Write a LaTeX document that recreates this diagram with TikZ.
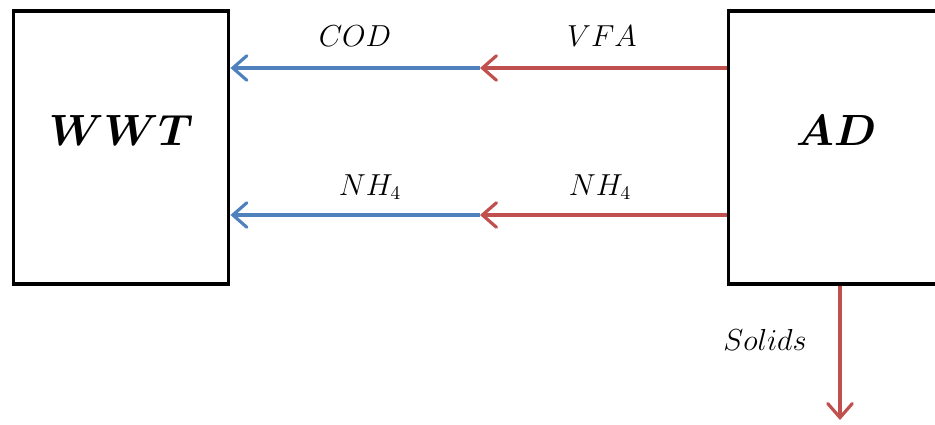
\documentclass[tikz,border=0pt]{standalone}
\usetikzlibrary{arrows.meta}

\definecolor{flowblue}{RGB}{79,129,189}
\definecolor{flowred}{RGB}{192,80,77}

\tikzset{
    unit/.style={draw, line width=2.2pt, minimum width=4.3cm, minimum height=5.45cm,
        text depth=0.7cm, font=\fontsize{32}{34}\selectfont\boldmath},
    flow/.style={line width=1.8pt, -{Straight Barb[length=8pt,width=14pt,line cap=round]}},
    lbl/.style={font=\fontsize{16}{18}\selectfont}
}

\begin{document}
\begin{tikzpicture}[x=0.02cm, y=-0.02cm]
    \useasboundingbox (0,0) rectangle (935,424);
    \clip (0,0) rectangle (935,424);
    \node[unit] (wwt) at (121,147.5) {$WWT$};
    \node[unit] (ad) at (836,147.5) {$AD$};
    \coordinate (midtop) at (480,68);
    \coordinate (midbot) at (480,215);
    \coordinate (solidsend) at (840,420);
    \draw[flow, flowred] (ad.west |- midtop) -- (midtop);
    \draw[flow, flowblue] (midtop) -- (wwt.east |- midtop);
    \draw[flow, flowred] (ad.west |- midbot) -- (midbot);
    \draw[flow, flowblue] (midbot) -- (wwt.east |- midbot);
    \draw[flow, flowred] (ad.south -| solidsend) -- (solidsend);
    \node[lbl] (cod) at (355,36) {$COD$};
    \node[lbl] (vfa) at (602,36) {$VFA$};
    \node[lbl] (nhleft) at (370,187) {$NH_4$};
    \node[lbl] (nhright) at (600,187) {$NH_4$};
    \node[lbl] (solids) at (765,340) {$Solids$};
\end{tikzpicture}
\end{document}
